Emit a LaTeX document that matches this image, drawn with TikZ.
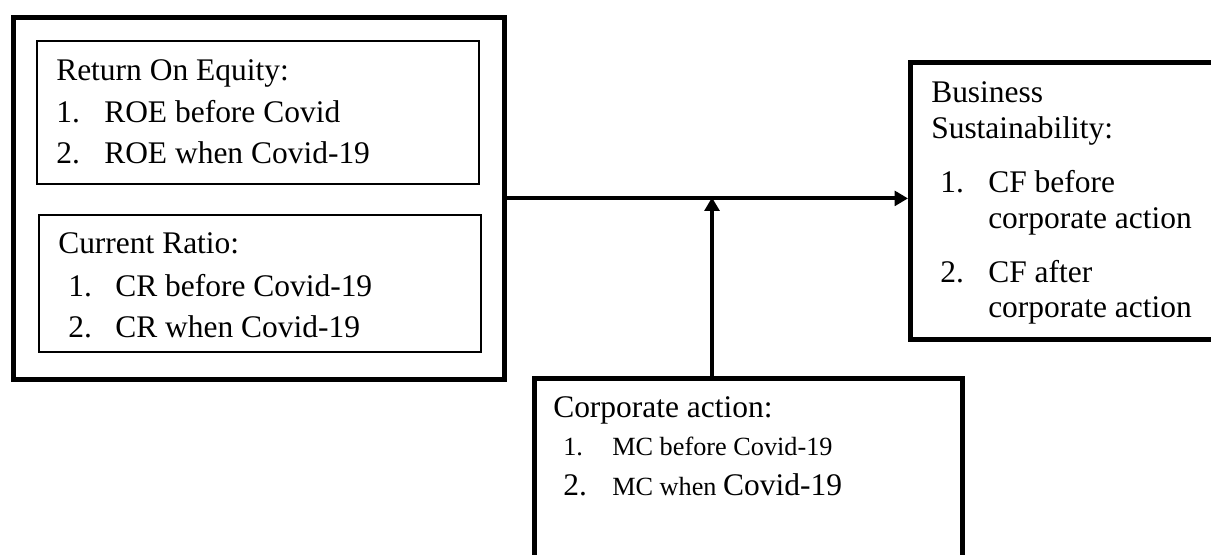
\documentclass[tikz,border=0pt]{standalone}
\usepackage{fontspec}
\setmainfont{Liberation Serif}
\usetikzlibrary{arrows.meta}
\newcommand{\bigtxt}{\fontsize{23.6}{28}\selectfont}
\newcommand{\smalltxt}{\fontsize{19.7}{24}\selectfont}
\tikzset{
  thickbox/.style={draw=black, line width=3.6pt, inner sep=0pt, anchor=north west},
  thinbox/.style={draw=black, line width=1.5pt, inner sep=0pt, anchor=north west},
  txt/.style={anchor=base west, inner sep=0pt, font=\bigtxt},
  stxt/.style={anchor=base west, inner sep=0pt, font=\smalltxt},
  conn/.style={line width=3pt, draw=black},
  arr/.style={conn, -{Triangle[length=10pt,width=11pt]}}
}
\begin{document}
\begin{tikzpicture}[x=0.75pt,y=-0.75pt]
\useasboundingbox (0,0) rectangle (1211,554);
% boxes
\node[thickbox, minimum width=491*0.75pt, minimum height=362*0.75pt] (left) at (11,15) {};
\node[thinbox, minimum width=442*0.75pt, minimum height=143*0.75pt] (roe) at (36,40) {};
\node[thinbox, minimum width=442*0.75pt, minimum height=137*0.75pt] (cr) at (38,214) {};
\node[thickbox, minimum width=320*0.75pt, minimum height=277*0.75pt] (right) at (908,60) {};
\node[thickbox, minimum width=428*0.75pt, minimum height=200*0.75pt] (bottom) at (532,376) {};
% ROE text
\node[txt] (roeT) at (56,80) {Return On Equity:};
\node[txt] (roeN1) at (56,122) {1.};
\node[txt] (roeI1) at (104,122) {ROE before Covid};
\node[txt] (roeN2) at (56,163) {2.};
\node[txt] (roeI2) at (104,163) {ROE when Covid-19};
% CR text
\node[txt] (crT) at (58,253) {Current Ratio:};
\node[txt] (crN1) at (68,296) {1.};
\node[txt] (crI1) at (115,296) {CR before Covid-19};
\node[txt] (crN2) at (68,337) {2.};
\node[txt] (crI2) at (115,337) {CR when Covid-19};
% right text
\node[txt] (bsT1) at (931,102) {Business};
\node[txt] (bsT2) at (931,138) {Sustainability:};
\node[txt] (bsN1) at (940,192) {1.};
\node[txt] (bsI1a) at (988,192) {CF before};
\node[txt] (bsI1b) at (988,228) {corporate action};
\node[txt] (bsN2) at (940,282) {2.};
\node[txt] (bsI2a) at (988,282) {CF after};
\node[txt] (bsI2b) at (988,317) {corporate action};
% bottom text
\node[txt] (caT) at (553,417) {Corporate action:};
\node[stxt] (caN1) at (563,455) {1.};
\node[stxt] (caI1) at (612,455) {MC before Covid-19};
\node[txt] (caN2) at (563,495) {2.};
\node[txt] (caI2) at (612,495) {{\smalltxt MC when }Covid-19};
% connectors
\coordinate (j) at (712,197.5);
\draw[arr] (left.east) -- (left.east -| right.west);
\draw[arr] (bottom.north -| j) -- (j);
\end{tikzpicture}
\end{document}
